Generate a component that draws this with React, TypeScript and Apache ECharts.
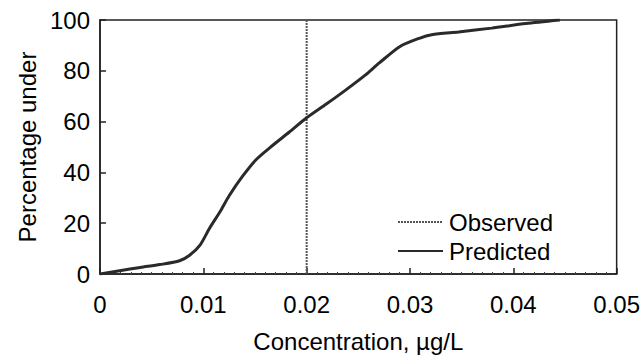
import React, { useEffect, useRef } from "react";
import * as echarts from "echarts";

const xTicks = [0, 0.01, 0.02, 0.03, 0.04, 0.05];
const yTicks = [0, 20, 40, 60, 80, 100];

const observedConc = [0.02, 0.02];
const observedPct = [0, 100];

const predictedConc = [
  0, 0.0019, 0.0039, 0.0058, 0.0077, 0.0087, 0.0097, 0.0106, 0.0116, 0.0125,
  0.0138, 0.0151, 0.0167, 0.0183, 0.02, 0.0219, 0.0238, 0.0257, 0.027, 0.029,
  0.0309, 0.0321, 0.0347, 0.0379, 0.0412, 0.0445,
];
const predictedPct = [
  0, 1.3, 2.6, 3.7, 5.2, 7.5, 11.5, 18, 24.4, 30.8, 38.5, 45, 50.6, 55.8, 61.5,
  66.9, 72.5, 78.4, 83, 89.5, 92.8, 94.2, 95.3, 96.8, 98.6, 100,
];

const FONT = "'Liberation Sans', Arial, Helvetica, sans-serif";
const TXT = "#000";
const FS = 24;

export default function App() {
  const ref = useRef<HTMLDivElement>(null);
  useEffect(() => {
    if (!ref.current) return;
    const chart = echarts.init(ref.current, undefined, { renderer: "svg" });
    const obs = observedConc.map((c, i) => [c, observedPct[i]]);
    const pred = predictedConc.map((c, i) => [c, predictedPct[i]]);
    chart.setOption({
      animation: false,
      backgroundColor: "#fff",
      grid: {
        left: 100,
        right: 25,
        top: 20,
        bottom: 78,
        show: true,
        borderColor: "#222",
        borderWidth: 1.5,
        backgroundColor: "transparent",
      },
      legend: {
        orient: "vertical",
        left: 397,
        top: 210,
        padding: 0,
        itemWidth: 45,
        itemHeight: 14,
        itemGap: 5,
        itemStyle: { opacity: 0 },
        textStyle: { fontFamily: FONT, fontSize: FS, color: TXT, padding: [0, 0, 0, 1] },
        data: ["Observed", "Predicted"],
      },
      xAxis: {
        type: "value",
        min: xTicks[0],
        max: xTicks[xTicks.length - 1],
        interval: 0.01,
        name: "Concentration, µg/L",
        nameLocation: "middle",
        nameGap: 55,
        nameTextStyle: { fontFamily: FONT, fontSize: FS, color: TXT },
        axisLine: { show: true, onZero: false, lineStyle: { color: "#222", width: 1.5 } },
        axisTick: { show: true, inside: true, length: 6, lineStyle: { color: "#222", width: 1.5 } },
        minorTick: { show: true, splitNumber: 10, length: 2, lineStyle: { color: "#444", width: 1 } },
        splitLine: { show: false },
        axisLabel: {
          fontFamily: FONT,
          fontSize: FS,
          color: TXT,
          margin: 18,
          formatter: (v: number) => (v === 0 ? "0" : v.toFixed(2)),
        },
      },
      yAxis: {
        type: "value",
        min: yTicks[0],
        max: yTicks[yTicks.length - 1],
        interval: 20,
        name: "Percentage under",
        nameLocation: "middle",
        nameRotate: 90,
        nameGap: 60,
        nameTextStyle: { fontFamily: FONT, fontSize: FS, color: TXT },
        axisLine: { show: true, lineStyle: { color: "#222", width: 1.5 } },
        axisTick: { show: true, inside: true, length: 6, lineStyle: { color: "#222", width: 1.5 } },
        splitLine: { show: false },
        axisLabel: { fontFamily: FONT, fontSize: FS, color: TXT, margin: 10 },
      },
      series: [
        {
          name: "Observed",
          type: "line",
          data: obs,
          symbol: "none",
          lineStyle: { color: "#555", width: 2, type: [2, 1] },
          itemStyle: { color: "#555" },
        },
        {
          name: "Predicted",
          type: "line",
          data: pred,
          symbol: "none",
          smooth: 0.25,
          lineStyle: { color: "#2a2a2a", width: 3 },
          itemStyle: { color: "#2a2a2a" },
        },
      ],
    });
    return () => chart.dispose();
  }, []);
  return (
    <div
      ref={ref}
      style={{ position: "fixed", left: 0, top: 0, width: 643, height: 358, background: "#fff" }}
    />
  );
}
